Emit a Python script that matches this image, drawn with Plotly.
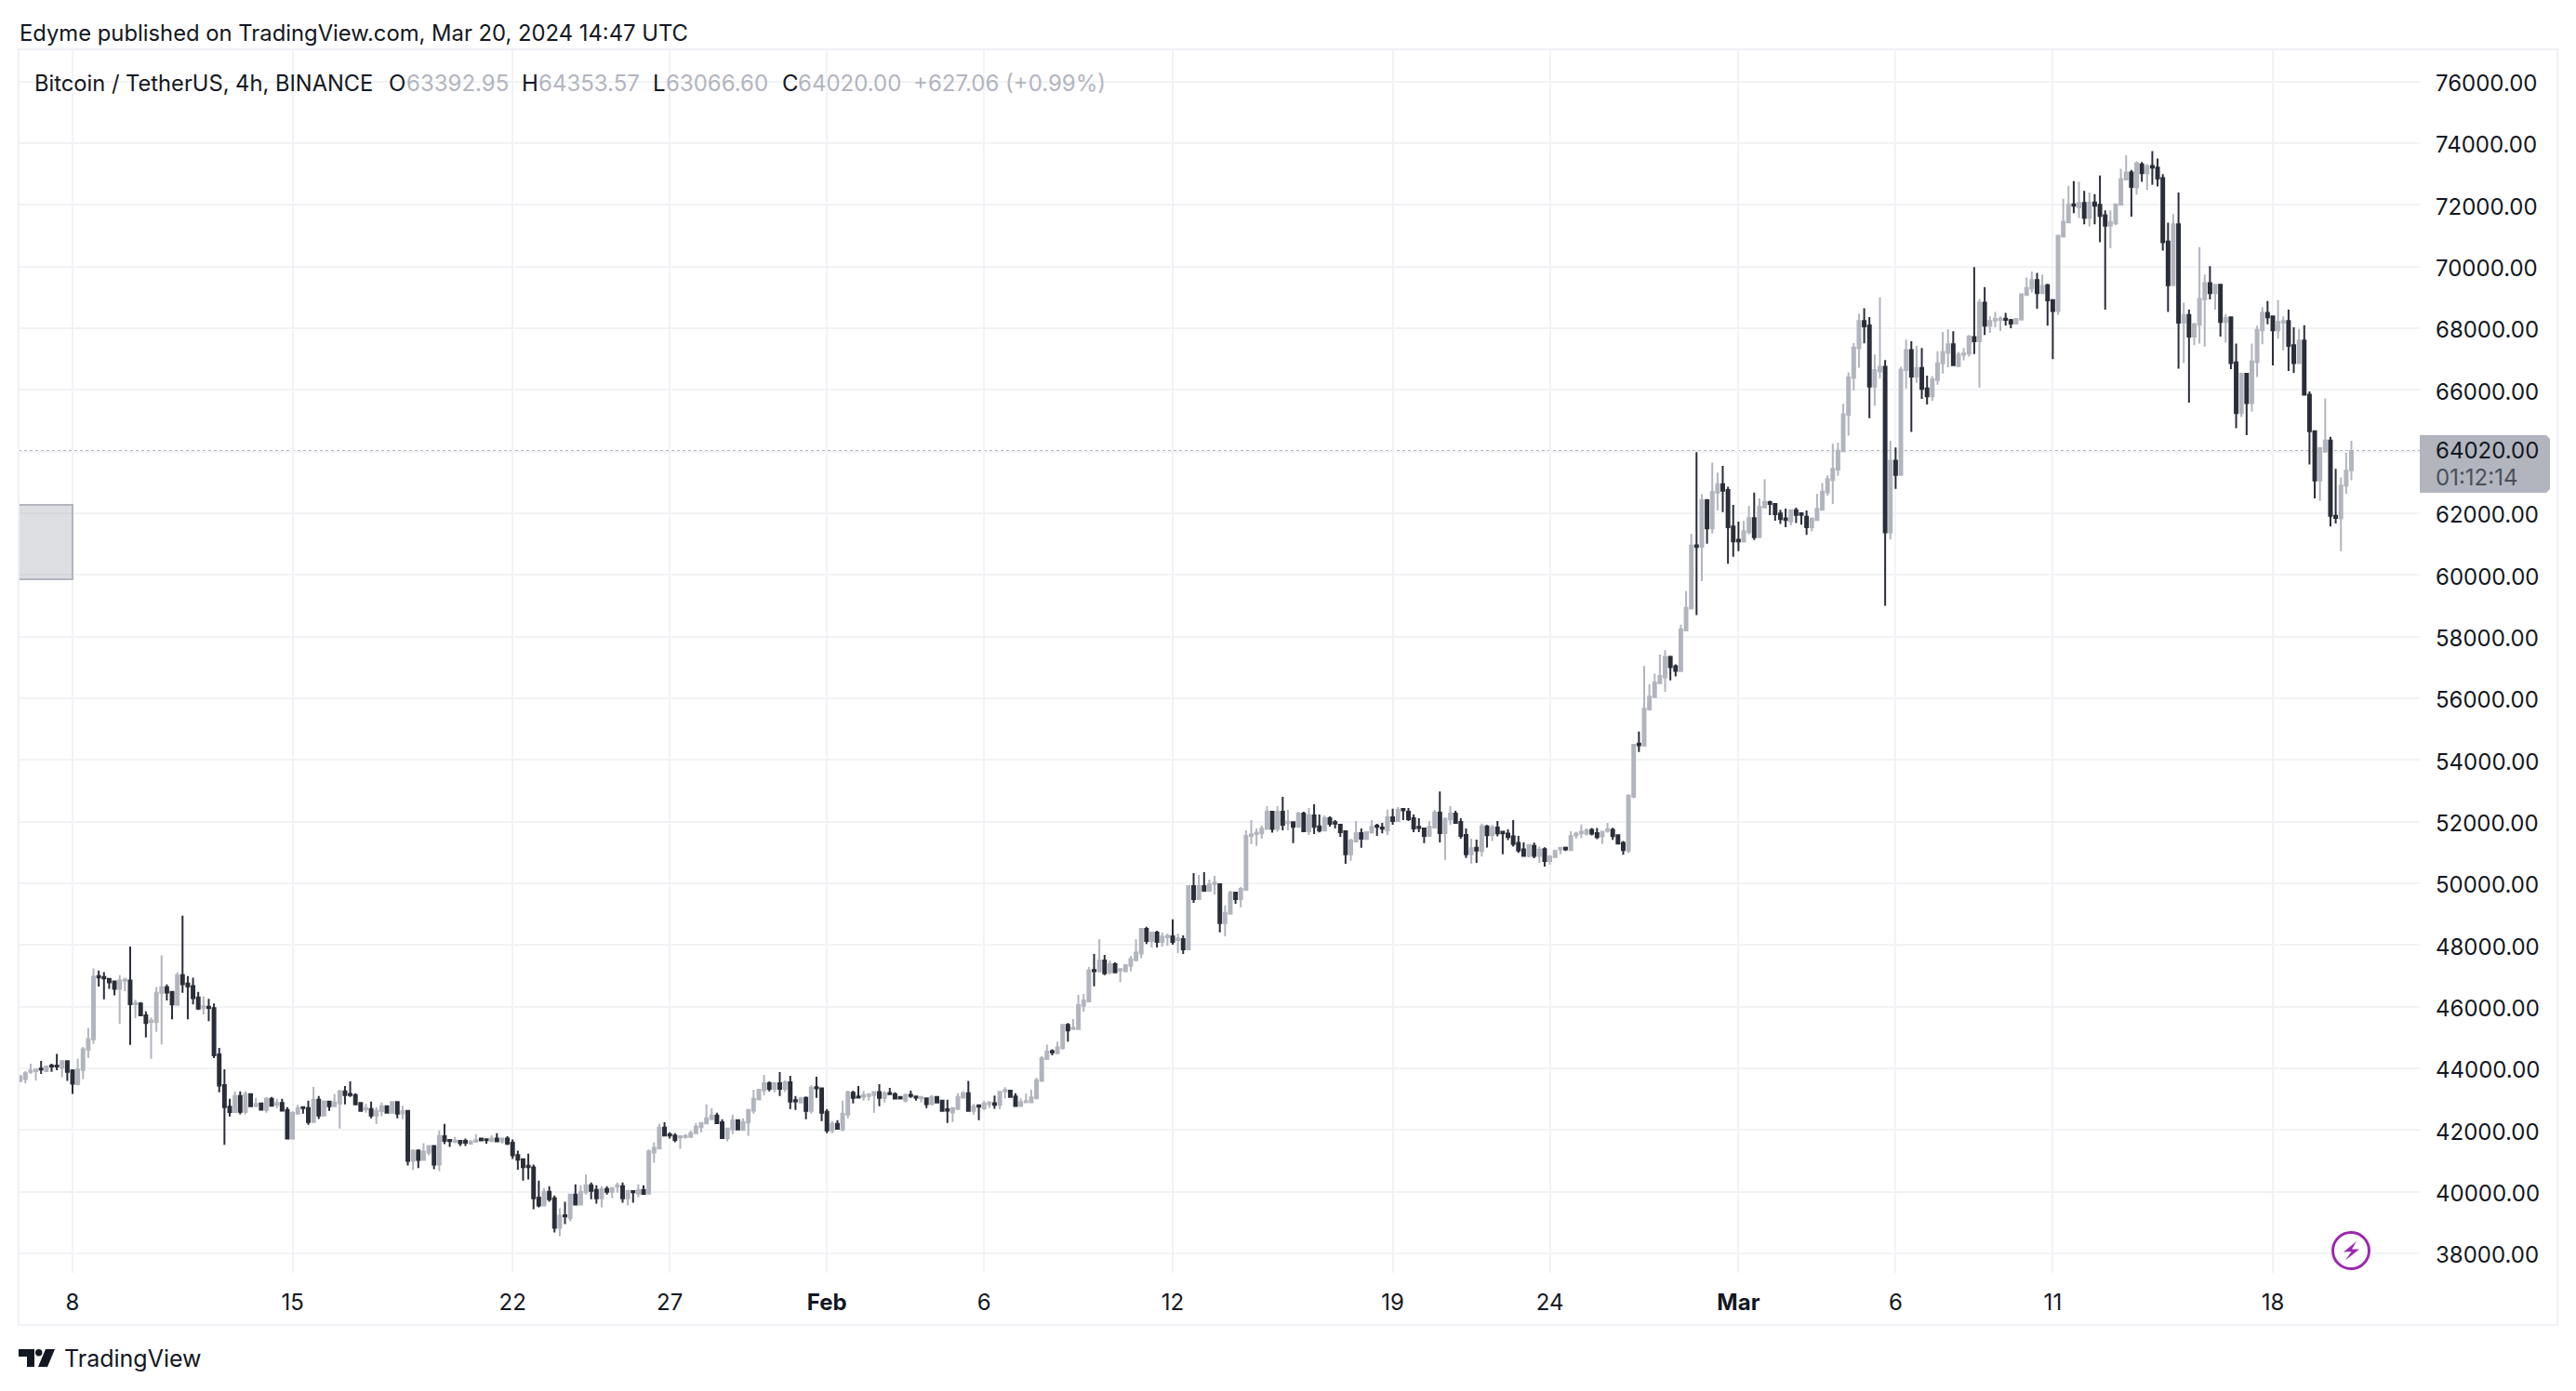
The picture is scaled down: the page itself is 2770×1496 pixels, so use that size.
import pandas as pd
import plotly.graph_objects as go

start_bar = "2024-01-06 08:00"
opens = [
43590,43650,43890,43910,43990,43910,44090,44090,44020,44230,
43930,43490,43950,44610,44940,46990,46960,46900,46820,46580,
46840,46850,46080,46100,45720,45510,45510,46440,46630,46480,
46060,47020,46750,46670,46300,45970,46000,45950,44450,43460,
42760,42580,43100,42590,43160,42790,42860,42650,43010,42820,
42880,42650,41720,42530,42740,42710,42260,42980,42470,42920,
42770,42860,43250,43170,43130,42880,42670,42680,42470,42610,
42770,42560,42910,42530,42620,41000,41330,41030,41270,41480,
40880,41800,41680,41620,41650,41650,41560,41620,41720,41700,
41640,41720,41630,41720,41590,41190,41050,40840,40790,39810,
39550,40000,39790,38830,39240,39140,39910,39580,39980,40210,
40060,39790,40090,40000,40160,40180,39790,40020,39940,40060,
39940,41270,41400,42080,41860,41820,41760,41770,41780,41900,
42090,42210,42350,42470,42250,41740,42020,42320,42000,42240,
42630,42990,43290,43520,43340,43520,43340,43550,42970,42890,
43040,42620,43390,43350,42590,41990,42200,42020,42500,43210,
43090,43070,43100,43130,43230,43040,43200,43160,43070,42950,
43140,43090,43030,43030,42840,43070,42950,42670,42570,42680,
43050,43190,42620,42800,42700,42840,42870,42820,43250,43280,
43090,42780,42900,42900,43030,43590,44300,44560,44490,44660,
45410,45270,45270,46030,46170,47190,47140,47500,47110,47380,
47170,47150,47330,47510,47720,48520,48130,48400,48100,48250,
48280,48160,48190,47860,49910,49490,49910,49760,49980,49970,
48710,49010,49700,49490,49790,51540,51600,51620,51760,52320,
51760,52320,51950,51980,51830,52260,51690,52200,51850,51710,
52110,51980,51900,51690,50940,51360,51630,51440,51640,51870,
51810,51720,52140,52020,52410,52320,52110,51830,51780,51540,
51810,52290,51630,52070,52260,51990,51570,50940,51150,51050,
51850,51560,51810,51670,51610,51520,51310,51100,50890,51210,
50890,51110,50720,50850,51100,51150,51080,51550,51620,51610,
51730,51630,51520,51700,51730,51560,51310,51060,52810,54530,
54460,55640,56040,56490,56680,57340,57040,56880,58200,58910,
60960,60910,62420,61510,62670,62940,62750,61570,61140,61080,
61390,61840,61220,62190,62360,62300,61990,61830,61740,62100,
62000,61890,61550,61780,62110,62680,63080,63420,64010,65190,
66390,67350,68230,68090,66110,66600,66750,61380,63700,63240,
66640,67290,66430,66710,66050,65790,66320,66860,67210,67480,
66780,67140,67180,67710,67580,68830,68080,68250,68270,68310,
68260,68150,68280,69080,69290,69560,69140,69390,68910,68560,
70970,71430,72020,71920,72060,71580,72080,72000,71660,71320,
71400,72000,72820,73050,72570,73310,73030,73260,73210,72870,
70810,69390,71370,68180,68430,67730,68110,68930,69460,69140,
69410,68200,68350,66890,65250,66520,65570,66900,67930,68500,
68380,67930,68180,68230,67450,66870,67600,65840,64660,63060,
64010,64360,61920,61830,62900,63392.95,
]
highs = [
43780,43910,44150,43970,44240,44090,44150,44470,44270,44260,
43970,44320,44690,45310,47240,47170,47120,46920,46850,47020,
46940,47950,46220,46150,45850,45650,46640,47660,46720,46490,
47110,48950,46990,46940,46480,46330,46250,46100,44660,43970,
43010,43250,43250,43250,43180,43040,42890,43070,43070,43010,
43010,42740,42620,42820,42770,42950,43400,43100,42950,42950,
43170,43310,43430,43580,43190,42890,42850,42920,42740,42890,
42800,42920,42920,42790,42620,41380,41380,41570,41510,41510,
41990,42200,41690,41780,41670,41720,41650,41870,41750,41710,
41830,41900,41740,41800,41690,41330,41070,41230,40880,40360,
40120,40180,39880,39460,39670,39910,40240,40210,40560,40300,
40210,40180,40180,40150,40300,40300,40060,40020,40240,40210,
41370,41600,42200,42250,41930,41900,41810,41870,41980,42230,
42260,42830,42710,42560,42350,42070,42500,42350,42380,42650,
43310,43340,43790,43580,43550,43880,43610,43760,43100,43070,
43090,43460,43730,43370,42680,42290,42320,42950,43280,43280,
43430,43270,43190,43250,43490,43260,43370,43220,43100,43190,
43280,43100,43070,43040,43130,43100,42980,42980,42740,43190,
43260,43590,42850,42800,42950,42920,43120,43270,43390,43300,
43190,43030,43180,43310,43700,44390,44770,44620,44870,45440,
45470,45600,46380,46410,47290,47710,48190,47680,47500,47440,
47230,47380,47650,48180,48550,48590,48430,48460,48400,48370,
48830,48370,48310,49940,50330,50270,50360,50120,50240,50000,
49280,49760,49730,49880,51720,52050,51780,51870,52500,52350,
52500,52800,52380,52010,52320,52320,52440,52560,52230,52200,
52170,52050,51900,51720,51450,52020,51780,51690,52050,51930,
51960,52390,52420,52470,52440,52440,52230,52110,51810,52020,
52380,52980,52140,52500,52350,52110,51780,51450,51420,51940,
51890,51890,52020,51700,51750,52050,51540,51330,51270,51320,
51190,51170,50910,51090,51170,51190,51690,51670,51910,51780,
51790,51790,51700,51960,51800,51590,51370,52850,54490,54920,
57050,56460,56800,57420,57560,57380,57100,58390,59480,61330,
63980,62620,62460,63640,63320,63540,62860,62270,61730,61750,
62240,62670,62480,63100,62410,62300,62110,62150,62130,62180,
62000,62090,61870,62630,62980,63230,64250,64290,65550,66570,
67520,68470,68650,68360,67150,69000,66970,64350,64130,66750,
67630,67580,67430,67360,66460,66450,67250,67880,67960,67900,
67230,67360,67780,69980,68950,69330,68380,68530,68380,68500,
68300,68330,69130,69640,69840,69790,69740,69440,68910,71000,
72200,72620,72770,72750,72450,72400,72350,72950,71820,71820,
72040,73170,73610,73130,73410,73390,73330,73740,73500,73000,
71420,71700,72400,68830,68600,68180,70630,69740,70010,69420,
69420,68460,68380,67500,66520,66550,67500,68080,68680,68880,
68410,68910,68380,68600,68030,67980,68100,65950,64680,64140,
65720,64480,63440,63160,63960,64353.57,
]
lows = [
43550,43520,43820,43610,43820,43890,43890,43940,43710,43590,
43170,43450,43650,44340,44790,46650,46240,46580,46370,45450,
46500,44760,45630,45700,45000,44310,45180,44780,46200,45590,
46040,46450,45590,46070,45890,45740,45530,44330,43220,41520,
42440,42550,42510,42510,42750,42730,42650,42560,42770,42710,
42620,41710,41710,42500,42530,42170,42250,42360,42460,42620,
42750,42050,42830,43070,42820,42610,42560,42380,42200,42450,
42530,42550,42380,42350,40850,40700,40770,41020,41180,40730,
40670,41540,41450,41570,41480,41480,41540,41600,41640,41560,
41630,41600,41560,41510,41060,40710,40360,40400,39430,39490,
39530,39670,38680,38560,38950,39040,39580,39550,39910,39760,
39610,39490,39910,39790,39970,39640,39550,39640,39820,39910,
39930,40940,41390,41810,41720,41600,41390,41720,41760,41890,
41930,42200,42320,42200,41720,41630,41870,41990,41990,41810,
42530,42970,43130,43250,43220,43100,43230,42680,42650,42860,
42350,42530,43040,42290,41900,41900,42020,41960,42380,42860,
43040,42950,42950,42560,42770,42890,43130,43010,43010,42890,
43040,42950,42890,42710,42800,42870,42590,42230,42260,42670,
43030,42590,42500,42320,42650,42720,42690,42670,43020,43040,
42770,42760,42890,42890,43020,43580,44290,44420,44480,44600,
44870,45260,45260,45840,46170,46660,47140,47020,47050,47100,
46800,47110,47150,47470,47570,48030,47920,47920,47950,47980,
48010,47740,47710,47840,49370,49480,49730,49750,49640,48410,
48280,49000,49340,49220,49760,51270,51210,51450,51750,51640,
51670,51720,51720,51300,51800,51680,51570,51600,51650,51680,
51840,51780,51510,50630,50730,51330,51150,51410,51620,51540,
51620,51570,51900,51990,52050,52020,51660,51660,51300,51510,
51790,51330,50760,51900,51950,51450,50820,50640,50660,50870,
51160,51370,51520,50940,51400,51190,50990,50880,50840,50810,
50660,50540,50600,50830,50940,51050,51060,51450,51470,51550,
51550,51430,51280,51640,51410,51270,50930,50980,52760,54260,
54440,55600,56030,56460,56210,56580,56710,56870,58180,58900,
58700,59800,61010,61340,62090,62040,60360,60590,60770,61070,
61310,61130,61210,62160,61940,61760,61650,61550,61610,61680,
61630,61300,61410,61770,62100,62570,62300,63210,64000,64520,
65970,66720,67510,65080,65490,66370,59000,61150,62790,63230,
66050,64640,66230,65710,65530,65650,66170,66530,66730,66790,
66730,66960,67080,67160,66070,67780,67850,68030,67910,68080,
68000,68130,68260,69060,69160,68630,69130,68080,67000,68430,
70950,71420,71730,71570,71370,71300,71370,70790,68600,70590,
71340,71990,72810,71620,72330,72750,72480,72650,72600,70520,
68530,69380,66690,66870,65590,67450,67500,67400,68930,68600,
67730,67530,66670,64760,65120,64530,65290,66420,67480,68130,
66790,67660,67280,66610,66550,66860,65830,63580,62480,62400,
63960,61570,61670,60770,62630,63066.60,
]
closes = [
43740,43840,43930,43960,43960,44060,44060,44060,44230,43890,
43500,43960,44620,44950,46970,46950,46920,46790,46580,46850,
46880,46080,46120,45720,45470,45550,46450,46630,46460,46070,
47020,46730,46650,46280,45940,46010,45960,44420,43440,42740,
42580,43100,42590,43160,42770,42850,42660,43010,42790,42880,
42630,41720,42550,42710,42710,42260,42980,42470,42930,42770,
42890,43250,43130,43130,42830,42620,42710,42470,42620,42770,
42560,42910,42530,42610,41000,41330,41030,41300,41480,40880,
41810,41650,41640,41660,41570,41590,41630,41670,41660,41670,
41720,41630,41720,41560,41180,41040,40800,40800,39790,39550,
40000,39760,38830,39220,39200,39910,39580,40000,40210,40030,
39790,40090,40000,40120,40210,39790,40030,39980,40060,39930,
41310,41420,42080,41820,41820,41680,41800,41810,41900,42110,
42230,42380,42470,42220,41740,42050,42320,42020,42260,42650,
43010,43310,43520,43340,43520,43340,43550,42920,42930,43030,
42620,43370,43350,42560,41990,42200,42040,42530,43220,43040,
43050,43130,43160,43230,43040,43190,43160,43020,43020,43130,
43100,43050,43070,42840,43070,42890,42620,42630,42710,43070,
43190,42620,42770,42760,42860,42900,42820,43240,43300,43070,
42780,42910,42940,43060,43610,44330,44540,44520,44680,45410,
45230,45320,46050,46200,47170,47150,47500,47080,47380,47110,
47220,47350,47540,47750,48520,48130,48400,48100,48270,48300,
48100,48210,47860,49910,49490,49910,49760,49970,50020,48710,
49040,49700,49490,49820,51540,51590,51640,51770,52320,51760,
52320,51900,52000,51830,52260,51690,52200,51830,51710,52110,
51930,51940,51660,50940,51390,51630,51450,51660,51830,51830,
51770,52140,52020,52380,52370,52080,51780,51790,51540,51840,
52290,51630,52090,52260,51960,51540,50940,51140,51060,51850,
51560,51810,51620,51620,51500,51270,51060,50890,51240,50890,
51090,50720,50870,51050,51150,51100,51530,51610,51670,51720,
51610,51500,51670,51750,51530,51290,51080,52850,54490,54480,
55660,56050,56510,56720,57340,57010,56890,58230,58930,60950,
60910,62420,61510,62690,62940,62730,61550,61090,61090,61420,
61840,61220,62210,62370,62300,61970,61810,61780,62100,61950,
61950,61550,61820,62140,62700,63110,63440,64030,65210,66410,
67370,68230,68060,66110,66640,66750,61380,63700,63240,66660,
67290,66430,66710,66030,65790,66340,66860,67230,67480,66800,
67150,67180,67730,67580,68830,68080,68230,68300,68310,68270,
68150,68300,69100,69300,69560,69140,69370,68900,68560,71000,
71450,72000,71970,72060,71580,72080,71970,71640,71320,71440,
72020,72830,73050,72580,73340,73030,73250,73210,72850,70790,
69390,71370,68180,68430,67730,68130,68950,69460,69140,69410,
68200,68330,66870,65250,66520,65570,66920,67950,68500,68350,
67930,68200,68230,67430,66870,67600,65840,64660,63060,64110,
64360,61920,61850,62900,63380,64020.00,
]
assert len(opens) == len(highs) == len(lows) == len(closes), (len(opens), len(highs), len(lows), len(closes))

tick_dates = ["2024-01-08","2024-01-15","2024-01-22","2024-01-27","2024-02-01","2024-02-06",
              "2024-02-12","2024-02-19","2024-02-24","2024-03-01","2024-03-06","2024-03-11","2024-03-18"]
tick_labels = ["8","15","22","27","<b>Feb</b>","6","12","19","24","<b>Mar</b>","6","11","18"]
price_ticks = list(range(38000, 78000, 2000))
box_low, box_high = 59860, 62270
change_text = "+627.06 (+0.99%)"
x_range = ["2024-01-06 06:49", "2024-03-22 16:12"]
y_range = [37367, 77044]

W, H = 2770, 1496
L, R, T, B = 20, 2602, 53, 1369
TEXT = "#131722"
GREY = "#B2B5BE"
DARK = "#2A2E39"
GRID = "#F2F3F6"
FONT = "Inter"

def px(x): return (x - L) / (R - L)
def py(y): return (B - y) / (B - T)
def path(cmds):
    out = []
    for c, *p in cmds:
        if c == "Z":
            out.append("Z")
        else:
            out.append(f"{c} {px(p[0]):.6f} {py(p[1]):.6f}")
    return " ".join(out)

dates = pd.date_range(start_bar, periods=len(opens), freq="4h")

fig = go.Figure(go.Candlestick(
    x=dates, open=opens, high=highs, low=lows, close=closes,
    increasing=dict(line=dict(color=GREY, width=2), fillcolor=GREY),
    decreasing=dict(line=dict(color=DARK, width=2), fillcolor=DARK),
    whiskerwidth=0, hoverinfo="skip", showlegend=False,
))

shapes = [
    dict(type="rect", xref="paper", yref="y", x0=0, x1=px(78), y0=box_low, y1=box_high,
         fillcolor="rgba(178,181,190,0.44)", line=dict(color=GREY, width=2), layer="above"),
    dict(type="line", xref="paper", yref="y", x0=0, x1=1, y0=closes[-1], y1=closes[-1],
         line=dict(color=GREY, width=2, dash="dot"), layer="below"),
    dict(type="rect", xref="paper", yref="paper", x0=0, x1=px(2750), y0=py(1425), y1=1,
         line=dict(color="#F0F0F6", width=2), fillcolor="rgba(0,0,0,0)", layer="above"),
    dict(type="path", xref="paper", yref="paper", fillcolor=GREY, line=dict(width=0), layer="above",
         path=path([("M",2602,468),("L",2738,468),("L",2742,472),("L",2742,526),("L",2738,530),("L",2602,530),("Z",)])),
    dict(type="circle", xref="paper", yref="paper", x0=px(2505), x1=px(2551), y0=py(1368), y1=py(1322),
         fillcolor="white", line=dict(width=0), layer="above"),
    dict(type="circle", xref="paper", yref="paper", x0=px(2508.5), x1=px(2547.5), y0=py(1364.5), y1=py(1325.5),
         fillcolor="white", line=dict(color="#9C27B0", width=3), layer="above"),
    dict(type="path", xref="paper", yref="paper", fillcolor="#9C27B0", line=dict(width=0), layer="above",
         path=path([("M",2534,1335),("L",2520,1346.5),("L",2528.5,1346),("L",2522,1355.5),("L",2537,1343.5),("L",2529,1343.5),("Z",)])),
    dict(type="path", xref="paper", yref="paper", fillcolor=TEXT, line=dict(width=0), layer="above",
         path=path([("M",20,1451),("L",37,1451),("L",37,1470),("L",29,1470),("L",29,1459),("L",20,1459),("Z",)])),
    dict(type="circle", xref="paper", yref="paper", x0=px(38), x1=px(45.4), y0=py(1458.4), y1=py(1451),
         fillcolor=TEXT, line=dict(width=0), layer="above"),
    dict(type="path", xref="paper", yref="paper", fillcolor=TEXT, line=dict(width=0), layer="above",
         path=path([("M",49,1451),("L",59,1451),("L",51,1470),("L",41,1470),("Z",)])),
]

def label(text, x, y, color=TEXT, size=24):
    return dict(text=text, xref="paper", yref="paper", x=px(x), y=py(y), xanchor="left", yanchor="middle",
                showarrow=False, font=dict(family=FONT, size=size, color=color), borderpad=0)

LEG_Y = 89.5
annotations = [
    label("Edyme published on TradingView.com, Mar 20, 2024 14:47 UTC", 20, 35, TEXT, 23.8),
    label("Bitcoin / TetherUS, 4h, BINANCE", 36, LEG_Y, TEXT, 23.7),
    label("O", 417, LEG_Y), label(f"{opens[-1]:.2f}", 436, LEG_Y, GREY),
    label("H", 560, LEG_Y), label(f"{highs[-1]:.2f}", 578, LEG_Y, GREY),
    label("L", 701, LEG_Y), label(f"{lows[-1]:.2f}", 715, LEG_Y, GREY),
    label("C", 840, LEG_Y), label(f"{closes[-1]:.2f}", 857, LEG_Y, GREY),
    label(change_text, 981, LEG_Y, GREY),
    label(f"{closes[-1]:.2f}", 2618, 484),
    label("01:12:14", 2618, 513, "#4A4E59"),
    label("TradingView", 68, 1461, TEXT, 25),
]

fig.update_layout(
    width=W, height=H, autosize=False, template="none",
    paper_bgcolor="white", plot_bgcolor="white",
    margin=dict(l=L, r=W - R, t=T, b=H - B, pad=0),
    boxgap=0.25, showlegend=False, dragmode=False, hovermode=False,
    shapes=shapes, annotations=annotations,
    font=dict(family=FONT, size=24, color=TEXT),
    xaxis=dict(type="date", range=x_range, rangeslider=dict(visible=False),
               tickmode="array", tickvals=tick_dates, ticktext=tick_labels,
               showgrid=True, gridcolor=GRID, gridwidth=2, zeroline=False, showline=False,
               ticks="", ticklabelstandoff=15, automargin=False,
               tickfont=dict(family=FONT, size=24, color=TEXT), tickangle=0),
    yaxis=dict(range=y_range, side="right", tickmode="array", tickvals=price_ticks,
               ticktext=["" if v == 64000 else f"{v:.2f}" for v in price_ticks],
               showgrid=True, gridcolor=GRID, gridwidth=2, zeroline=False, showline=False,
               ticks="", ticklabelstandoff=16, ticklabelshift=2, automargin=False,
               tickfont=dict(family=FONT, size=24, color=TEXT)),
)
fig.write_html("out.html", post_script="document.body.style.margin='0';",
               config={"displayModeBar": False})
